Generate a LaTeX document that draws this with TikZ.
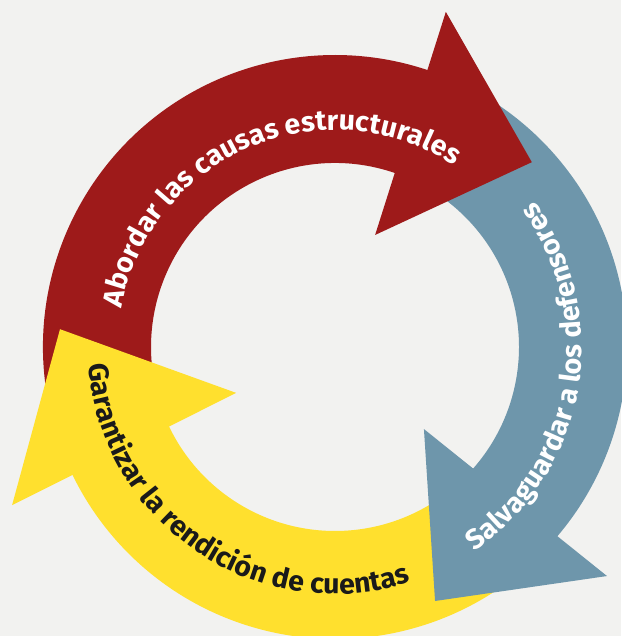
\documentclass[tikz,border=0pt]{standalone}
\usepackage{fontspec}
\newfontfamily\arrowfont{Fira Sans}[FakeStretch=1.02]
\usetikzlibrary{decorations.text}
\definecolor{bg}{RGB}{242,242,240}
\definecolor{redc}{RGB}{158,26,26}
\definecolor{bluec}{RGB}{110,150,171}
\definecolor{yellowc}{RGB}{255,224,46}
\definecolor{textdark}{RGB}{26,26,26}
\tikzset{
  arrowtext/.style 2 args={decorate, decoration={text along path, text align=center, text color=#1, text={|\arrowfont\bfseries\fontsize{28}{28}\selectfont|#2}}}
}
\begin{document}
\begin{tikzpicture}[x=1pt,y=1pt]
\fill[bg] (0,0) rectangle (621,636);
\useasboundingbox (0,0) rectangle (621,636);
\begin{scope}[shift={(335,289)}]
% bands
\fill[redc] (195:292) arc[start angle=195,end angle=70.5,radius=292] -- (70.5:184) arc[start angle=70.5,end angle=195,radius=184] -- cycle;
\fill[bluec] (64:292) arc[start angle=64,end angle=-42,radius=292] -- (-42:184) arc[start angle=-42,end angle=64,radius=184] -- cycle;
\fill[yellowc] (-52:292) arc[start angle=-52,end angle=-155,radius=292] -- (-155:184) arc[start angle=-155,end angle=-52,radius=184] -- cycle;
% heads
\fill[redc] (71.7:353) -- (43.2:270) -- (70.3:119) -- cycle;
\fill[bluec] (-40.1:355.6) -- (-68.5:273) -- (-42.7:121) -- cycle;
\fill[yellowc] (206.1:359.6) -- (176.3:275.6) -- (204.9:109) -- cycle;
% texts
\path[arrowtext={white}{Abordar las causas estructurales}] (193.25:217) arc[start angle=193.25,end angle=33.25,radius=217];
\path[arrowtext={white}{Salvaguardar a los defensores}] (-89.75:247) arc[start angle=-89.75,end angle=70.25,radius=247];
\path[arrowtext={textdark}{Garantizar la rendición de cuentas}] (156:247) arc[start angle=156,end angle=316,radius=247];
\end{scope}
\end{tikzpicture}
\end{document}
